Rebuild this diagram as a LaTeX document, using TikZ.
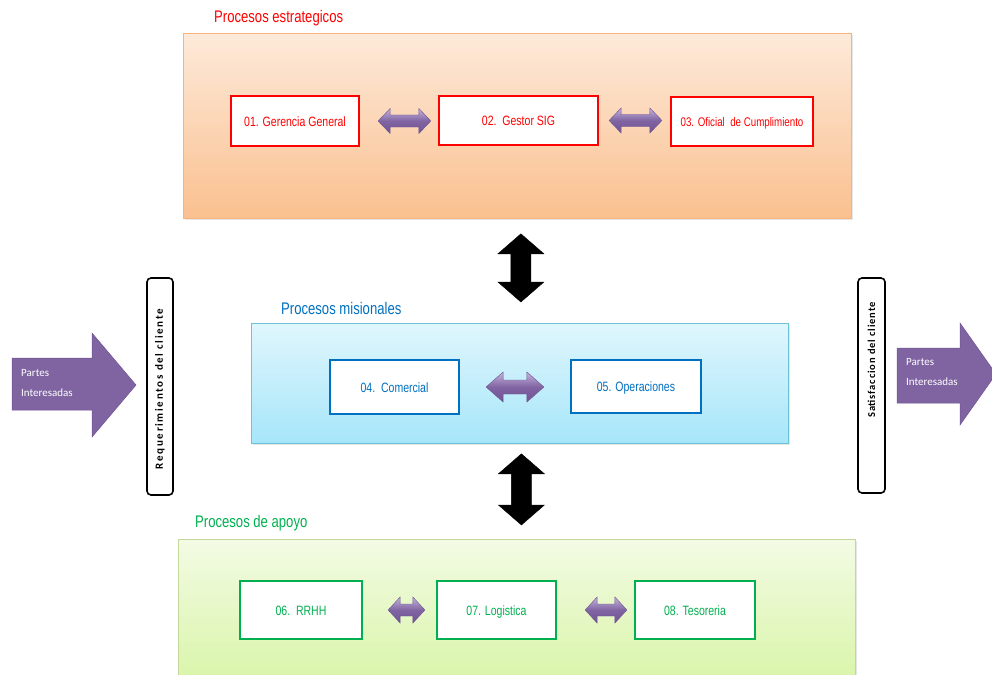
\documentclass[tikz,border=0pt]{standalone}
\usepackage{fontspec}
\setmainfont{Liberation Sans}[FakeStretch=0.78]
\newfontfamily\calfont{Carlito}
\usetikzlibrary{calc,shadows}
\definecolor{orTop}{HTML}{FDEADA}
\definecolor{orBot}{HTML}{FAC08F}
\definecolor{orBorder}{HTML}{F8B47A}
\definecolor{blTop}{HTML}{E0F6FD}
\definecolor{blBot}{HTML}{A6E6F9}
\definecolor{blBorder}{HTML}{6CC3D8}
\definecolor{grTop}{HTML}{F3FBE4}
\definecolor{grBot}{HTML}{D6F4A2}
\definecolor{grBorder}{HTML}{C3D69B}
\definecolor{redT}{HTML}{FF0000}
\definecolor{blueT}{HTML}{0070C0}
\definecolor{greenT}{HTML}{00B050}
\definecolor{purp}{HTML}{8064A2}
\definecolor{purpL}{HTML}{C4B5DC}
\definecolor{purpD}{HTML}{6F5393}
\newcommand{\hdarrow}[7]{%
  \path[purparrow] let \p1=(#1.east), \p2=(#2.west) in
    (\x1+#3pt,\y1) -- (\x1+#3pt+#7pt,\y1+#5pt) -- (\x1+#3pt+#7pt,\y1+#6pt)
    -- (\x2-#4pt-#7pt,\y1+#6pt) -- (\x2-#4pt-#7pt,\y1+#5pt) -- (\x2-#4pt,\y1)
    -- (\x2-#4pt-#7pt,\y1-#5pt) -- (\x2-#4pt-#7pt,\y1-#6pt)
    -- (\x1+#3pt+#7pt,\y1-#6pt) -- (\x1+#3pt+#7pt,\y1-#5pt) -- cycle;}
\newcommand{\vdarrow}[8]{%
  \path[blackarrow] let \p1=(#1.south), \p2=(#2.north) in
    (\x1+#8pt,\y1-#3pt) -- (\x1+#8pt+#5pt,\y1-#3pt-#7pt) -- (\x1+#8pt+#6pt,\y1-#3pt-#7pt)
    -- (\x1+#8pt+#6pt,\y2+#4pt+#7pt) -- (\x1+#8pt+#5pt,\y2+#4pt+#7pt) -- (\x1+#8pt,\y2+#4pt)
    -- (\x1+#8pt-#5pt,\y2+#4pt+#7pt) -- (\x1+#8pt-#6pt,\y2+#4pt+#7pt)
    -- (\x1+#8pt-#6pt,\y1-#3pt-#7pt) -- (\x1+#8pt-#5pt,\y1-#3pt-#7pt) -- cycle;}
\begin{document}
\begin{tikzpicture}[x=1pt,y=-1pt,
  bigbox/.style={draw, line width=0.8pt, anchor=north west, inner sep=0pt,
    drop shadow={opacity=0.2, shadow xshift=1.5pt, shadow yshift=-1.5pt}},
  smallbox/.style={draw, fill=white, line width=2.2pt, inner sep=2pt, align=center,
    text height=11pt, text depth=1pt,
    font=\fontsize{13.5}{15}\selectfont,
    drop shadow={opacity=0.25, shadow xshift=1.2pt, shadow yshift=-1.2pt}},
  redbox/.style={smallbox, draw=redT, text=redT},
  bluebox/.style={smallbox, draw=blueT, text=blueT},
  greenbox/.style={smallbox, draw=greenT, text=greenT},
  title/.style={anchor=west, inner sep=0pt, font=\fontsize{16.8}{18}\selectfont},
  purparrow/.style={top color=purpL, bottom color=purpD, middle color=purp, draw=purpD, line width=0.4pt},
  blackarrow/.style={fill=black, draw=black, line width=0.4pt},
  sidebar/.style={draw=black, fill=white, line width=1.6pt, rounded corners=4pt, inner sep=0pt},
  sidetext/.style={rotate=90, inner sep=0pt},
  bigarrow/.style={fill=purp, draw=purpD, line width=0.5pt},
  arrowtext/.style={anchor=west, align=left, inner sep=0pt, text=white,
    font=\calfont\fontsize{11}{20}\selectfont}
]
\useasboundingbox (0,0) rectangle (992,674);
\clip (0,0) rectangle (992,674);

% big group boxes
\node[bigbox, top color=orTop, bottom color=orBot, draw=orBorder,
  minimum width=668pt, minimum height=185pt] (strat) at (183,33) {};
\node[bigbox, top color=blTop, bottom color=blBot, draw=blBorder,
  minimum width=537pt, minimum height=120pt] (mis) at (251,323) {};
\node[bigbox, top color=grTop, bottom color=grBot, draw=grBorder,
  minimum width=677pt, minimum height=160pt] (apo) at (178,539) {};

% titles
\node[title, text=redT] (tstrat) at (214,18) {Procesos estrategicos};
\node[title, text=blueT] (tmis) at (281,308) {Procesos misionales};
\node[title, text=greenT] (tapo) at (195,523) {Procesos de apoyo};

% process boxes
\node[redbox, minimum width=128pt, minimum height=50pt] (b01) at (295,121) {01. Gerencia General};
\node[redbox, minimum width=159pt, minimum height=49pt] (b02) at (518.5,120.5) {02.\ \ Gestor SIG};
\node[redbox, minimum width=142pt, minimum height=49pt, font=\fontsize{12.5}{14}\selectfont] (b03) at (742,121.5) {03. Oficial\ \ de Cumplimiento};
\node[bluebox, minimum width=129pt, minimum height=54pt] (b04) at (394.5,387) {04.\ \ Comercial};
\node[bluebox, minimum width=130pt, minimum height=53pt] (b05) at (636,386.5) {05. Operaciones};
\node[greenbox, minimum width=122pt, minimum height=58pt] (b06) at (301,610) {06.\ \ RRHH};
\node[greenbox, minimum width=119pt, minimum height=58pt] (b07) at (496.5,610) {07. Logistica};
\node[greenbox, minimum width=120pt, minimum height=58pt] (b08) at (695,610) {08. Tesoreria};

% horizontal double arrows
\hdarrow{b01}{b02}{18}{7}{12.5}{6}{12}
\hdarrow{b02}{b03}{10}{8}{12.5}{6}{12}
\hdarrow{b04}{b05}{26}{26}{15}{7}{17}
\hdarrow{b06}{b07}{25}{11}{13}{6}{12}
\hdarrow{b07}{b08}{28}{7}{13}{6}{12}

% vertical black double arrows
\vdarrow{strat}{mis}{15}{21}{23}{10}{20}{3.5}
\vdarrow{mis}{apo}{10}{14}{23}{10}{20}{1.5}

% side bars
\node[sidebar, minimum width=26pt, minimum height=217pt] (req) at (160,386.5) {};
\node[sidetext, font=\calfont\bfseries\fontsize{11}{12}\addfontfeatures{LetterSpace=15}\selectfont] (reqtext) at (160,389) {Requerimientos del cliente};
\node[sidebar, minimum width=27pt, minimum height=215pt] (sat) at (871.5,385.5) {};
\node[sidetext, font=\calfont\bfseries\fontsize{10.5}{12}\addfontfeatures{LetterSpace=8}\selectfont] (sattext) at (871.5,360) {Satisfaccion del cliente};

% big purple arrows
\coordinate (lTip) at (136,385);
\path[bigarrow] (12,358) -- (92,358) -- (92,333) -- (lTip) -- (92,437) -- (92,410) -- (12,410) -- cycle;
\node[arrowtext] (lText) at (21,383) {Partes\\Interesadas};
\coordinate (rTip) at (996,374);
\path[bigarrow] (897,348) -- (960,348) -- (960,323) -- (rTip) -- (960,425) -- (960,403) -- (897,403) -- cycle;
\node[arrowtext] (rText) at (906,372) {Partes\\Interesadas};
\end{tikzpicture}
\end{document}
